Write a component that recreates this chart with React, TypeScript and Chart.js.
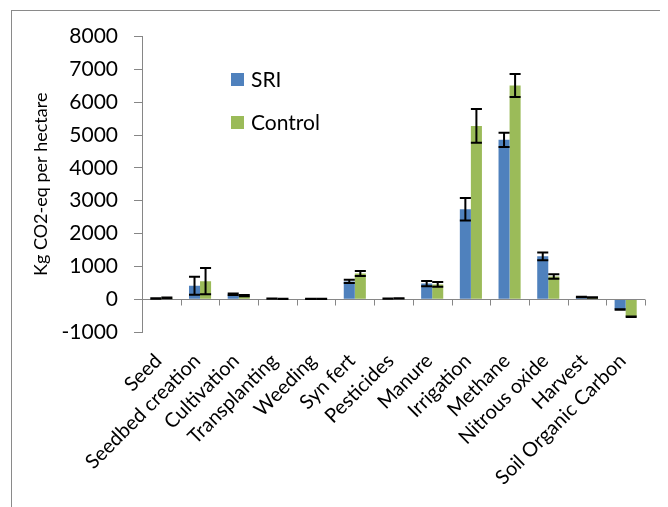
import React, { useEffect, useRef } from "react";
import { Chart, registerables } from "chart.js";

Chart.register(...registerables);

const categories = [
  "Seed",
  "Seedbed creation",
  "Cultivation",
  "Transplanting",
  "Weeding",
  "Syn fert",
  "Pesticides",
  "Manure",
  "Irrigation",
  "Methane",
  "Nitrous oxide",
  "Harvest",
  "Soil Organic Carbon",
];
const sriValues = [20, 410, 150, 15, 10, 540, 15, 475, 2740, 4855, 1305, 65, -315];
const sriErrors = [10, 275, 20, 5, 5, 50, 5, 80, 345, 215, 120, 10, 10];
const controlValues = [40, 550, 110, 10, 10, 780, 25, 450, 5280, 6510, 690, 50, -535];
const controlErrors = [10, 400, 20, 5, 5, 75, 5, 75, 515, 350, 70, 10, 10];
const seriesNames = ["SRI", "Control"];
const seriesColors = ["#4F81BD", "#9BBB59"];
const yMin = -1000;
const yMax = 8000;
const yStep = 1000;
const yTitle = "Kg CO2-eq per hectare";

const FONT = "Lato, 'Open Sans', sans-serif";
const AXIS_GRAY = "#868686";

const errorLists = [sriErrors, controlErrors];

const framePlugin = {
  id: "frame",
  beforeDraw(chart: any) {
    const ctx = chart.ctx;
    ctx.save();
    ctx.fillStyle = "#ffffff";
    ctx.fillRect(0, 0, chart.width, chart.height);
    ctx.strokeStyle = "#8a8a8a";
    ctx.lineWidth = 1;
    ctx.strokeRect(3.5, 2.5, chart.width + 50, chart.height + 50);
    ctx.restore();
  },
};

const zeroAxisPlugin = {
  id: "zeroAxis",
  afterDatasetsDraw(chart: any) {
    const ctx = chart.ctx;
    const x = chart.scales.x;
    const y = chart.scales.y;
    const y0 = Math.round(y.getPixelForValue(0)) + 0.5;
    const { left, right } = chart.chartArea;
    ctx.save();
    ctx.strokeStyle = AXIS_GRAY;
    ctx.lineWidth = 1;
    ctx.beginPath();
    ctx.moveTo(left, y0);
    ctx.lineTo(right, y0);
    const n = categories.length;
    const w = (right - left) / n;
    for (let i = 0; i <= n; i++) {
      const px = Math.round(x.getPixelForValue(Math.min(i, n - 1)) + (i === n ? w / 2 : -w / 2)) + 0.5;
      ctx.moveTo(px, y0);
      ctx.lineTo(px, y0 + 6);
    }
    ctx.stroke();

    // error bars
    ctx.strokeStyle = "#000000";
    ctx.lineWidth = 2;
    chart.data.datasets.forEach((ds: any, di: number) => {
      const meta = chart.getDatasetMeta(di);
      const errs = errorLists[di];
      meta.data.forEach((bar: any, i: number) => {
        const v = ds.data[i];
        const e = errs[i];
        const yt = y.getPixelForValue(v + e);
        const yb = y.getPixelForValue(v - e);
        const half = bar.width / 2;
        ctx.beginPath();
        ctx.moveTo(bar.x, yt);
        ctx.lineTo(bar.x, yb);
        ctx.moveTo(bar.x - half, yt);
        ctx.lineTo(bar.x + half, yt);
        ctx.moveTo(bar.x - half, yb);
        ctx.lineTo(bar.x + half, yb);
        ctx.stroke();
      });
    });
    ctx.restore();
  },
};

const legendPlugin = {
  id: "insideLegend",
  afterDraw(chart: any) {
    const ctx = chart.ctx;
    ctx.save();
    ctx.font = `21px ${FONT}`;
    ctx.textBaseline = "middle";
    ctx.textAlign = "left";
    const ys = [71, 114];
    seriesNames.forEach((name, i) => {
      ctx.fillStyle = seriesColors[i];
      ctx.fillRect(223, ys[i] - 6, 13, 13);
      ctx.fillStyle = "#000000";
      ctx.fillText(name, 243, ys[i] + 1);
    });
    ctx.restore();
  },
};

export default function App() {
  const ref = useRef<HTMLCanvasElement | null>(null);
  useEffect(() => {
    if (!ref.current) return;
    const chart = new Chart(ref.current, {
      type: "bar",
      data: {
        labels: categories,
        datasets: [
          {
            label: seriesNames[0],
            data: sriValues,
            backgroundColor: seriesColors[0],
            categoryPercentage: 0.571,
            barPercentage: 1,
          },
          {
            label: seriesNames[1],
            data: controlValues,
            backgroundColor: seriesColors[1],
            categoryPercentage: 0.571,
            barPercentage: 1,
          },
        ],
      },
      options: {
        responsive: false,
        animation: false,
        devicePixelRatio: 1,
        layout: { padding: { top: 27, right: 23, left: 0, bottom: 0 } },
        plugins: {
          legend: { display: false },
          tooltip: { enabled: false },
        },
        scales: {
          x: {
            grid: { display: false, drawTicks: false },
            border: { display: false },
            ticks: {
              autoSkip: false,
              minRotation: 45,
              maxRotation: 45,
              padding: 17,
              labelOffset: -3,
              color: "#000000",
              font: { family: FONT, size: 20 },
            },
            afterFit(scale: any) {
              scale.height = 175;
            },
          },
          y: {
            min: yMin,
            max: yMax,
            grid: {
              display: true,
              drawOnChartArea: false,
              drawTicks: true,
              tickLength: 8,
              color: AXIS_GRAY,
            },
            border: { display: true, color: AXIS_GRAY, width: 1 },
            ticks: {
              stepSize: yStep,
              padding: 16,
              color: "#000000",
              font: { family: FONT, size: 21 },
              callback: (v: any) => String(v),
            },
            title: {
              display: true,
              text: yTitle,
              color: "#000000",
              font: { family: FONT, size: 18 },
              padding: { top: 22, bottom: 0 },
            },
            afterFit(scale: any) {
              scale.width = 134;
            },
          },
        },
      },
      plugins: [framePlugin, zeroAxisPlugin, legendPlugin],
    } as any);
    return () => chart.destroy();
  }, []);
  return (
    <div style={{ width: 660, height: 499 }}>
      <canvas ref={ref} width={660} height={499} style={{ display: "block" }} />
    </div>
  );
}
